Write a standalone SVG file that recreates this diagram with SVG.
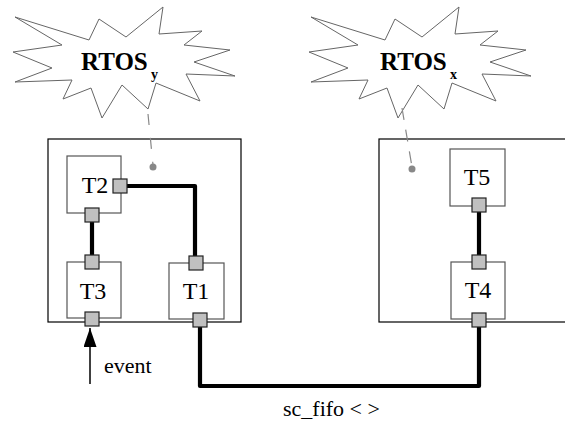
<svg xmlns="http://www.w3.org/2000/svg" width="565" height="421" viewBox="0 0 565 421">
<style>
.bg{fill:#fff}
.star{fill:#fff;stroke:#666;stroke-width:1}
.os{font-family:'Liberation Serif',serif;font-weight:bold;fill:#000}
.big{fill:#fff;stroke:#000;stroke-width:1.2}
.task{fill:#fff;stroke:#555;stroke-width:1.2}
.lbl{font-family:'Liberation Serif',serif;font-size:24px;fill:#000;text-anchor:middle}
.txt{font-family:'Liberation Serif',serif;font-size:22px;fill:#000}
.port{fill:#c0c0c0;stroke:#222;stroke-width:1.2}
.wire{fill:none;stroke:#000;stroke-width:4.2;stroke-linejoin:round}
.dash{fill:none;stroke:#888;stroke-width:1.2}
.dot{fill:#888}
</style>
<defs>
<path id="burst" d="M15,17 L89,40 L99,19 L126,37 L163,7 L159,34 L202,31 L184,45 L230,50 L194,62 L235,76 L186,74 L200,101 L156,83 L148,109 L122,85 L102,118 L91,88 L63,99 L72,80 L15,82 L52,68 L13,52 L62,45 Z"/>
<marker id="arr" markerUnits="userSpaceOnUse" markerWidth="19" markerHeight="13" refX="19" refY="6.5" orient="auto" viewBox="0 0 19 13">
<path d="M0,0 L19,6.5 L0,13 Z" fill="#000"/>
</marker>
</defs>
<rect class="bg" x="0" y="0" width="565" height="421"/>

<g id="rtos-y">
<use href="#burst" class="star"/>
<text class="os" x="81" y="70" font-size="25">RTOS</text>
<text class="os" x="151" y="79" font-size="14">y</text>
</g>
<g id="rtos-x">
<use href="#burst" class="star" transform="translate(296,0)"/>
<text class="os" x="380" y="70" font-size="25">RTOS</text>
<text class="os" x="450" y="79" font-size="14">x</text>
</g>

<g id="module-left"><rect class="big" x="48" y="139" width="193" height="183"/></g>
<g id="module-right"><rect class="big" x="379" y="139" width="200" height="183"/></g>

<g id="T2"><rect class="task" x="67" y="156" width="54" height="57"/><text class="lbl" x="95" y="193">T2</text></g>
<g id="T3"><rect class="task" x="67" y="262" width="54" height="56"/><text class="lbl" x="93" y="299">T3</text></g>
<g id="T1"><rect class="task" x="169" y="263" width="55" height="56"/><text class="lbl" x="196" y="299">T1</text></g>
<g id="T5"><rect class="task" x="450" y="149" width="55" height="57"/><text class="lbl" x="477" y="185">T5</text></g>
<g id="T4"><rect class="task" x="451" y="262" width="54" height="57"/><text class="lbl" x="478" y="298">T4</text></g>

<g id="connectors">
<line class="dash" x1="148" y1="114" x2="153" y2="165" stroke-dasharray="11 13"/>
<circle class="dot" cx="153" cy="167" r="3.5"/>
<line class="dash" x1="402" y1="108" x2="412" y2="167" stroke-dasharray="12 10"/>
<circle class="dot" cx="412" cy="169" r="3.5"/>
<path class="wire" d="M127,186 H195 V256"/>
<path class="wire" d="M92,222 V255"/>
<path class="wire" d="M479,212 V255"/>
<path class="wire" d="M200,327 V386 H479 V327"/>
<line x1="90" y1="384" x2="90" y2="328" stroke="#000" stroke-width="1.5" marker-end="url(#arr)"/>
<text class="txt" x="104" y="373">event</text>
<text class="txt" x="283" y="416">sc_fifo &lt; &gt;</text>
</g>

<g id="ports">
<rect class="port" x="113" y="179" width="14" height="14"/>
<rect class="port" x="85" y="208" width="14" height="14"/>
<rect class="port" x="85" y="255" width="14" height="14"/>
<rect class="port" x="85" y="312" width="14" height="14"/>
<rect class="port" x="189" y="256" width="14" height="14"/>
<rect class="port" x="193" y="313" width="14" height="14"/>
<rect class="port" x="472" y="198" width="14" height="14"/>
<rect class="port" x="472" y="255" width="14" height="14"/>
<rect class="port" x="472" y="313" width="14" height="14"/>
</g>
</svg>
